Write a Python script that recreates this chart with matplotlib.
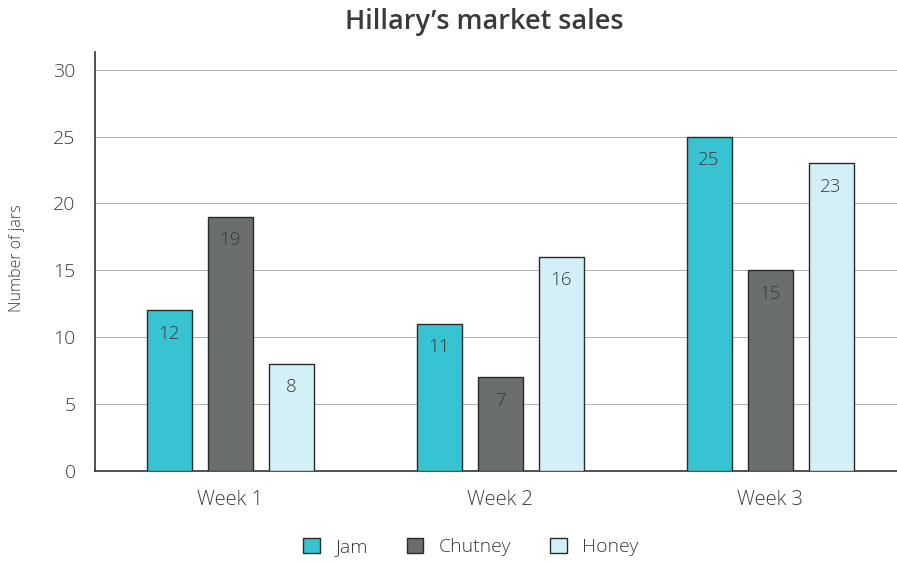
import matplotlib.pyplot as plt
import numpy as np

plt.rcParams['font.family'] = ['Open Sans', 'DejaVu Sans']
plt.rcParams['font.weight'] = 'light'

weeks = ['Week 1', 'Week 2', 'Week 3']
products = ['Jam', 'Chutney', 'Honey']
jam = [12, 11, 25]
chutney = [19, 7, 15]
honey = [8, 16, 23]
colours = ['#38c3d3', '#6b6e6e', '#d3f0f8']

fig = plt.figure(figsize=(8.97, 5.62), dpi=100)
ax = fig.add_axes([0.106, 0.162, 0.894, 0.745])

x = np.arange(len(weeks))
step = 0.226
width = 0.167
series = [jam, chutney, honey]
for i, (name, vals, col) in enumerate(zip(products, series, colours)):
    pos = x + (i - 1) * step
    bars = ax.bar(pos, vals, width, color=col, edgecolor='#2a2a2a',
                  linewidth=1.0, label=name, zorder=3)
    for b, v in zip(bars, vals):
        ax.text(b.get_x() + b.get_width() / 2, v - 1.75, str(v),
                ha='center', va='center', fontsize=13.5, color='#3a3a3a', zorder=4)

ax.set_xlim(-0.5, 2.47)
ax.set_ylim(0, 31.3)
ax.set_yticks(range(0, 31, 5))
ax.set_xticks(x)
ax.set_xticklabels(weeks, fontsize=14.5, color='#3a3a3a')
ax.tick_params(axis='y', length=0, pad=14, labelsize=14, labelcolor='#3a3a3a')
ax.tick_params(axis='x', length=0, pad=14)
ax.yaxis.grid(True, color='#b0b0b0', linewidth=0.7, zorder=0)
for s in ['top', 'right']:
    ax.spines[s].set_visible(False)
ax.spines['left'].set_color('#333333')
ax.spines['bottom'].set_color('#333333')
ax.spines['left'].set_linewidth(1.2)
ax.spines['bottom'].set_linewidth(1.2)

fig.text(0.019, 0.54, 'Number of jars', rotation=90, ha='center', va='center',
         fontsize=11.5, color='#3a3a3a')
fig.text(0.54, 0.96, 'Hillary\u2019s market sales', ha='center', va='center',
         fontsize=19.5, fontweight='semibold', color='#3a3a3a')

leg = fig.legend(loc='center', bbox_to_anchor=(0.525, 0.027), ncol=3,
                 frameon=False, fontsize=14, handlelength=0.85, handleheight=0.85,
                 columnspacing=2.0, handletextpad=0.8)
for t in leg.get_texts():
    t.set_color('#3a3a3a')

fig.savefig('out.png', dpi=100)
